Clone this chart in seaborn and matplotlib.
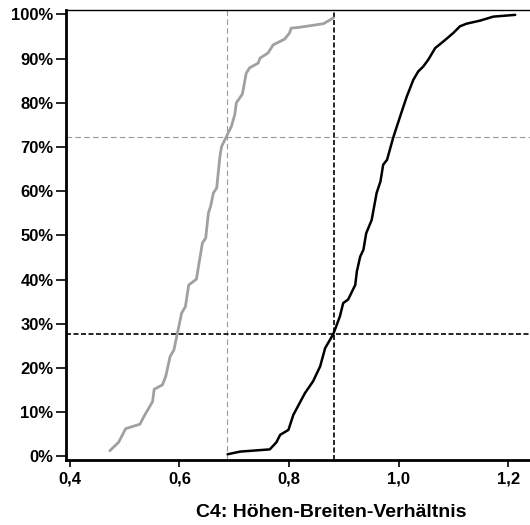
import matplotlib
matplotlib.use("Agg")
import matplotlib.pyplot as plt
import seaborn as sns
from matplotlib.ticker import FuncFormatter

# gray curve (reference group)
gray_x = [0.473, 0.489, 0.502, 0.528, 0.535, 0.551, 0.554, 0.569, 0.575, 0.583, 0.590, 0.595,
          0.604, 0.611, 0.617, 0.631, 0.640, 0.642, 0.648, 0.653, 0.657, 0.662, 0.668, 0.674,
          0.677, 0.686, 0.695, 0.701, 0.704, 0.715, 0.722, 0.728, 0.744, 0.747, 0.762, 0.771,
          0.792, 0.801, 0.804, 0.820, 0.863, 0.881]
gray_y = [1.3, 3.2, 6.3, 7.3, 9.0, 12.4, 15.2, 16.2, 18.1, 22.6, 24.1, 27.1,
          32.4, 33.9, 38.8, 40.1, 46.8, 48.3, 49.4, 55.1, 56.6, 59.6, 60.7, 67.9,
          70.1, 72.4, 74.7, 77.3, 80.0, 82.0, 86.7, 87.9, 89.0, 90.1, 91.3, 93.1,
          94.4, 95.8, 96.9, 97.1, 97.9, 99.2]

# black curve
black_x = [0.688, 0.711, 0.765, 0.777, 0.784, 0.799, 0.808, 0.820, 0.829, 0.844, 0.857, 0.866,
           0.881, 0.893, 0.899, 0.908, 0.921, 0.924, 0.930, 0.936, 0.941, 0.951, 0.960, 0.967,
           0.972, 0.979, 0.990, 0.996, 1.005, 1.015, 1.027, 1.036, 1.045, 1.054, 1.067, 1.082,
           1.100, 1.112, 1.124, 1.149, 1.173, 1.213]
black_y = [0.5, 1.1, 1.6, 3.2, 4.9, 6.0, 9.4, 12.2, 14.3, 17.0, 20.4, 24.5,
           27.7, 31.7, 34.7, 35.5, 38.8, 41.9, 45.2, 46.8, 50.5, 53.5, 59.6, 62.2,
           66.0, 67.1, 72.0, 74.3, 77.7, 81.4, 85.2, 87.1, 88.2, 89.7, 92.4, 93.9,
           95.8, 97.3, 97.9, 98.6, 99.5, 99.9]

# reference lines
gray_ref = (0.687, 72.2)
black_ref = (0.882, 27.7)

sns.set_style("white")
plt.rcParams['font.family'] = ['Liberation Sans', 'DejaVu Sans']
plt.rcParams['font.weight'] = 'bold'
plt.rcParams['text.color'] = 'black'
plt.rcParams['axes.labelcolor'] = 'black'
plt.rcParams['xtick.color'] = 'black'
plt.rcParams['ytick.color'] = 'black'

fig = plt.figure(figsize=(5.30, 5.25), dpi=100)
ax = fig.add_axes([66 / 530, 65 / 525, 1 - 66 / 530, 450 / 525])

ax.axvline(gray_ref[0], color='#999999', lw=0.8, ls=(0, (5, 3)), zorder=1)
ax.axhline(gray_ref[1], color='#999999', lw=0.8, ls=(0, (5, 3)), zorder=1)
ax.axvline(black_ref[0], color='black', lw=1.2, ls=(0, (3, 1.5)), zorder=1)
ax.axhline(black_ref[1], color='black', lw=1.2, ls=(0, (3, 1.5)), zorder=1)

sns.lineplot(x=gray_x, y=gray_y, color='#a0a0a0', lw=2, sort=False, estimator=None, ax=ax, zorder=3)
sns.lineplot(x=black_x, y=black_y, color='black', lw=1.8, sort=False, estimator=None, ax=ax, zorder=3)

ax.set_xlim(0.393, 1.24)
ax.set_ylim(-0.8, 101)
ax.set_xticks([0.4, 0.6, 0.8, 1.0, 1.2])
ax.set_yticks(range(0, 101, 10))
ax.xaxis.set_major_formatter(FuncFormatter(lambda v, p: f"{v:.1f}".replace('.', ',')))
ax.yaxis.set_major_formatter(FuncFormatter(lambda v, p: f"{v:.0f}%"))
ax.tick_params(axis='both', which='major', labelsize=12, direction='out', color='black',
               labelcolor='black', width=1.2, bottom=True, left=True)
ax.tick_params(axis='y', length=7, pad=2)
ax.tick_params(axis='x', length=5, pad=3)
for lab in ax.get_xticklabels() + ax.get_yticklabels():
    lab.set_fontweight('bold')

for side in ['left', 'bottom']:
    ax.spines[side].set_linewidth(2)
    ax.spines[side].set_color('black')
ax.spines['top'].set_linewidth(1)
ax.spines['top'].set_color('black')
ax.spines['right'].set_visible(False)

ax.set_xlabel('C4: Höhen-Breiten-Verhältnis', fontsize=14, fontweight='bold', color='black')
ax.xaxis.set_label_coords((331 - 66) / 464, -44 / 450)
ax.set_ylabel('')

plt.savefig('out.png', dpi=100)
